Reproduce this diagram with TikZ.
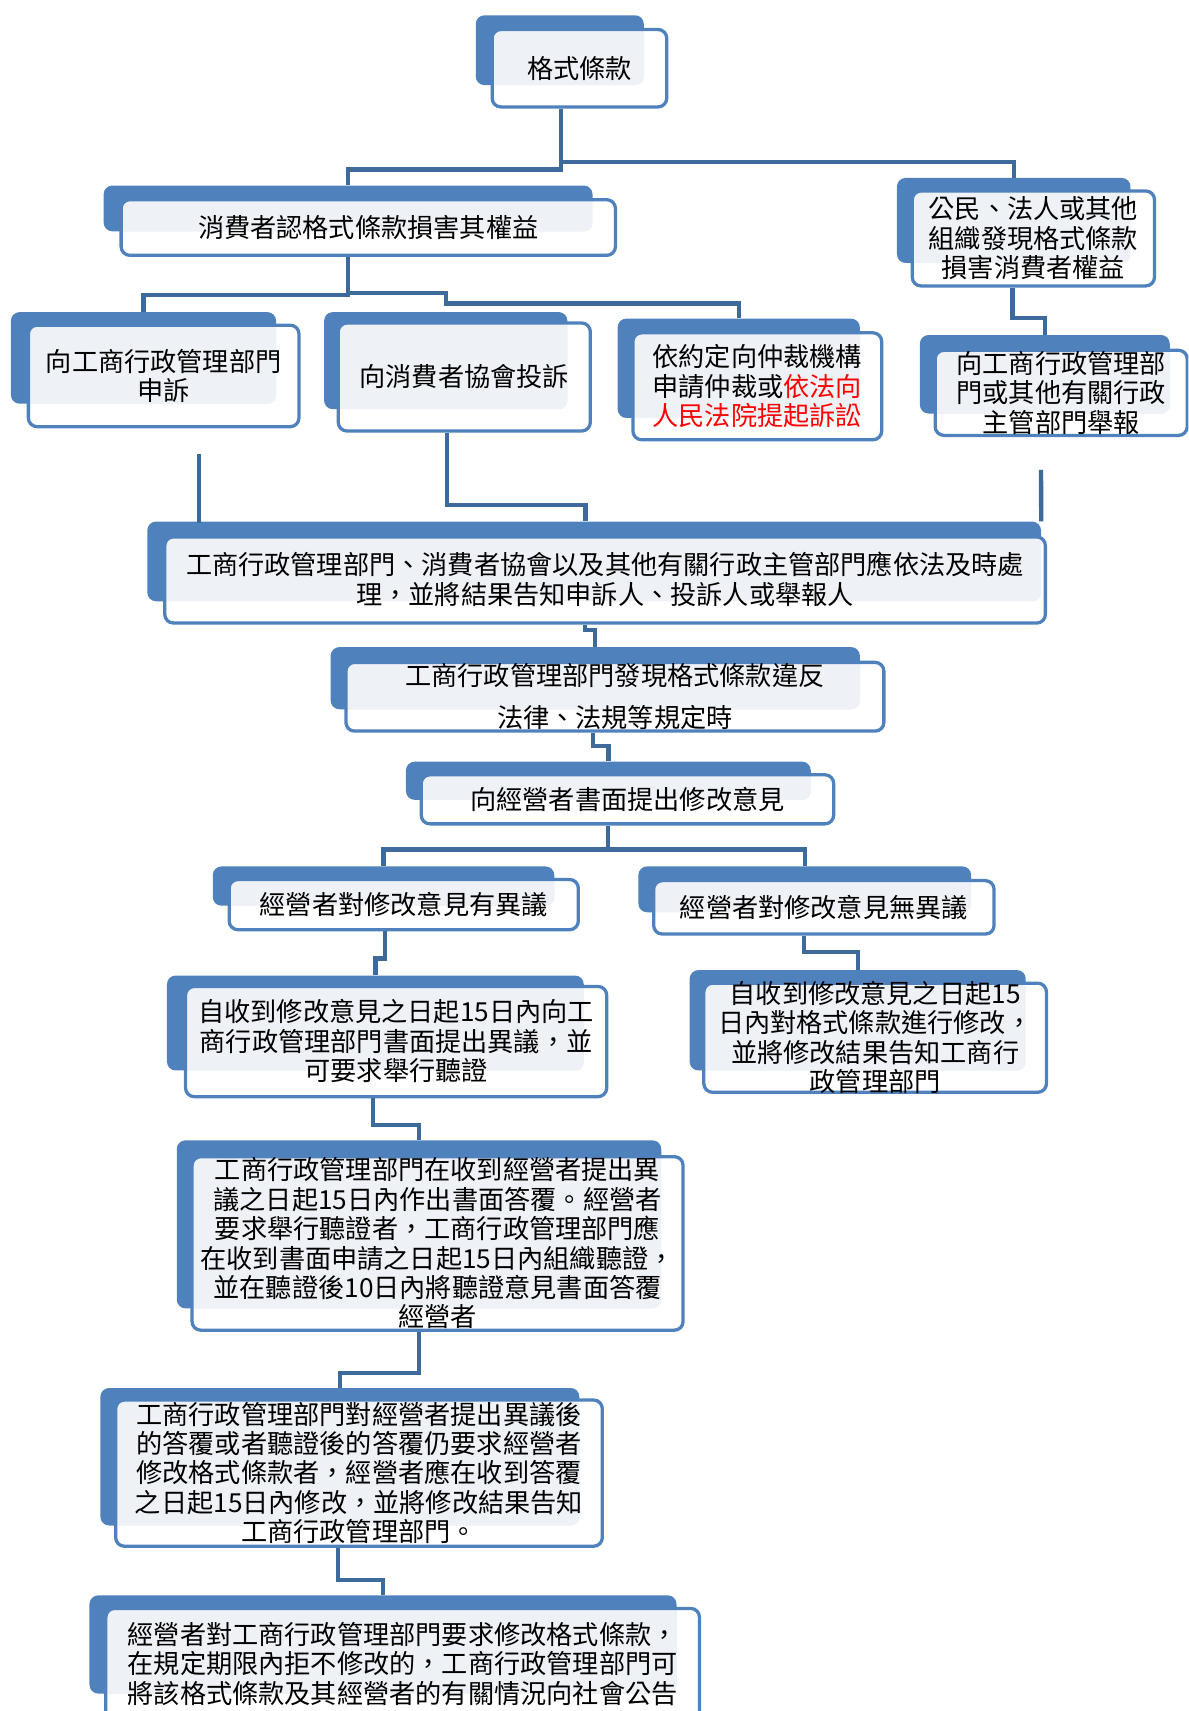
\documentclass[tikz,border=0pt]{standalone}
\usepackage{fontspec}
\newfontfamily\cjk{Noto Sans CJK TC}
\usetikzlibrary{positioning, fit}
\definecolor{boxblue}{RGB}{79,129,189}
\definecolor{boxlight}{RGB}{238,242,247}
\definecolor{linkblue}{RGB}{62,106,155}
\definecolor{textred}{RGB}{255,0,0}
% one text line, set a little lower in its box
\newcommand\dropline[1]{\raisebox{-10pt}[\height][\depth]{#1}}

\begin{document}
\begin{tikzpicture}[
    x=1pt, y=-1pt,
    backbox/.style={rectangle, fill=boxblue, rounded corners=8pt, inner sep=0pt},
    mainbox/.style={rectangle, draw=boxblue, line width=3pt, rounded corners=8pt, fill=white, inner sep=0pt, align=center,
        font=\cjk\fontsize{24pt}{27pt}\selectfont,
        path picture={\fill[boxlight, rounded corners=8pt] (#1.north west) rectangle (#1.south east);}},
    connector/.style={draw=linkblue, line width=4pt}
]
\useasboundingbox (0,0) rectangle (1089,1568);
\clip (0,0) rectangle (1089,1568);

% Top: standard clause
\node[backbox, fit={(436,14) (590,78)}] (clause_bg) {};
\node[mainbox=clause_bg, fit={(451,27) (611,98)}] (clause) {\dropline{格式條款}};

% Who finds the harm
\node[backbox, fit={(95,170) (543,212)}] (consumer_claim_bg) {};
\node[mainbox=consumer_claim_bg, fit={(111,183) (564,234)}] (consumer_claim) {\dropline{消費者認格式條款損害其權益}};
\node[backbox, fit={(822,163) (1036,241)}] (public_find_bg) {};
\node[mainbox=public_find_bg, fit={(836,175) (1058,262)}] (public_find) {\dropline{公民、法人或其他}\\\dropline{組織發現格式條款}\\\dropline{損害消費者權益}};

% Ways to act
\node[backbox, fit={(10,286) (253,370)}] (appeal_dept_bg) {};
\node[mainbox=appeal_dept_bg, fit={(26,298) (274,391)}] (appeal_dept) {\dropline{向工商行政管理部門}\\\dropline{申訴}};
\node[backbox, fit={(297,286) (520,375)}] (complain_assoc_bg) {};
\node[mainbox=complain_assoc_bg, fit={(310,296) (541,395)}] (complain_assoc) {\dropline{向消費者協會投訴}};
\node[backbox, fit={(566,292) (788,383)}] (arbitration_bg) {};
\node[mainbox=arbitration_bg, fit={(580,305) (808,403)}] (arbitration) {\dropline{依約定向仲裁機構}\\\dropline{申請仲裁或{\color{textred}依法向}}\\\dropline{\color{textred}人民法院提起訴訟}};
\node[backbox, fit={(843,307) (1072,379)}] (report_dept_bg) {};
\node[mainbox=report_dept_bg, fit={(857,321) (1088,399)}] (report_dept) {\dropline{向工商行政管理部}\\\dropline{門或其他有關行政}\\\dropline{主管部門舉報}};

% Handling
\node[backbox, fit={(135,478) (954,551)}] (handle_bg) {};
\node[mainbox=handle_bg, fit={(151,492) (958,571)}] (handle) {\dropline{工商行政管理部門、消費者協會以及其他有關行政主管部門應依法及時處}\\\dropline{理，並將結果告知申訴人、投訴人或舉報人}};
\node[backbox, fit={(303,593) (788,650)}] (violation_bg) {};
\node[mainbox=violation_bg, fit={(317,607) (810,670)}] (violation) {\dropline{工商行政管理部門發現格式條款違反}\\[11pt]\dropline{法律、法規等規定時}};
\node[backbox, fit={(372,698) (743,733)}] (written_opinion_bg) {};
\node[mainbox=written_opinion_bg, fit={(386,710) (764,755)}] (written_opinion) {\dropline{向經營者書面提出修改意見}};

% Operator's answer
\node[backbox, fit={(195,794) (508,830)}] (objection_bg) {};
\node[mainbox=objection_bg, fit={(210,806) (530,852)}] (objection) {\dropline{經營者對修改意見有異議}};
\node[backbox, fit={(585,794) (890,836)}] (no_objection_bg) {};
\node[mainbox=no_objection_bg, fit={(599,807) (911,856)}] (no_objection) {\dropline{經營者對修改意見無異議}};
\node[backbox, fit={(153,894) (535,981)}] (objection_deadline_bg) {};
\node[mainbox=objection_deadline_bg, fit={(170,904) (556,1005)}] (objection_deadline) {\dropline{自收到修改意見之日起15日內向工}\\\dropline{商行政管理部門書面提出異議，並}\\\dropline{可要求舉行聽證}};
\node[backbox, fit={(632,889) (940,981)}] (revise_deadline_bg) {};
\node[mainbox=revise_deadline_bg, fit={(645,901) (959,1001)}] (revise_deadline) {\dropline{自收到修改意見之日起15}\\\dropline{日內對格式條款進行修改，}\\\dropline{並將修改結果告知工商行}\\\dropline{政管理部門}};

% Hearing and final steps
\node[backbox, fit={(162,1045) (606,1199)}] (hearing_reply_bg) {};
\node[mainbox=hearing_reply_bg, fit={(176,1060) (626,1219)}] (hearing_reply) {\dropline{工商行政管理部門在收到經營者提出異}\\\dropline{議之日起15日內作出書面答覆。經營者}\\\dropline{要求舉行聽證者，工商行政管理部門應}\\\dropline{在收到書面申請之日起15日內組織聽證，}\\\dropline{並在聽證後10日內將聽證意見書面答覆}\\\dropline{經營者}};
\node[backbox, fit={(92,1272) (531,1398)}] (revise_order_bg) {};
\node[mainbox=revise_order_bg, fit={(106,1283) (552,1417)}] (revise_order) {\dropline{工商行政管理部門對經營者提出異議後}\\\dropline{的答覆或者聽證後的答覆仍要求經營者}\\\dropline{修改格式條款者，經營者應在收到答覆}\\\dropline{之日起15日內修改，並將修改結果告知}\\\dropline{工商行政管理部門。}};
\node[backbox, fit={(82,1462) (620,1552)}] (public_notice_bg) {};
\node[mainbox=public_notice_bg, fit={(97,1474) (641,1576)}] (public_notice) {\dropline{經營者對工商行政管理部門要求修改格式條款，}\\\dropline{在規定期限內拒不修改的，工商行政管理部門可}\\\dropline{將該格式條款及其經營者的有關情況向社會公告}};

% Connectors
\draw[connector] ([xshift=-17pt]clause.south) -- ++(0,56) -| (consumer_claim_bg.north);
\draw[connector] ([xshift=-17pt]clause.south) -- ++(0,49) -| (public_find_bg.north);
\draw[connector] ([xshift=-18.5pt]consumer_claim.south) -- ++(0,35) -| (appeal_dept_bg.north);
\draw[connector] ([xshift=-18.5pt]consumer_claim.south) -- ++(0,33) -- ++(90,0) -- ++(0,9.5) -| (arbitration_bg.north);
\draw[connector] ([xshift=-19pt]public_find.south) -- ++(0,28) -| (report_dept_bg.north);
\draw[connector] ([xshift=32.5pt,yshift=-24pt]appeal_dept.south) -- ++(0,63);
\draw[connector] ([xshift=-16pt]complain_assoc.south) -- ++(0,66) -| ([xshift=-8pt]handle_bg.north);
\draw[connector] ([xshift=-18.5pt,yshift=-30pt]report_dept.south) -- (handle_bg.north east);
\draw[connector] ([xshift=-18.5pt]handle.south) -- ++(0,5) -| (violation_bg.north);
\draw[connector] ([xshift=-20pt]violation.south) -- ++(0,12) -| (written_opinion_bg.north);
\draw[connector] ([xshift=-18pt]written_opinion.south) -- ++(0,22) -| (objection_bg.north);
\draw[connector] ([xshift=-18pt]written_opinion.south) -- ++(0,22) -| (no_objection_bg.north);
\draw[connector] ([xshift=-17pt]objection.south) -- ++(0,25) -| (objection_deadline_bg.north);
\draw[connector] ([xshift=-18pt]no_objection.south) -- ++(0,15) -| (revise_deadline_bg.north);
\draw[connector] ([xshift=-21pt]objection_deadline.south) -- ++(0,24.5) -| (hearing_reply_bg.north);
\draw[connector] ([xshift=-17pt]hearing_reply.south) -- ++(0,38) -| (revise_order_bg.north);
\draw[connector] ([xshift=-19pt]revise_order.south) -- ++(0,29.5) -| (public_notice_bg.north);

\end{tikzpicture}
\end{document}
